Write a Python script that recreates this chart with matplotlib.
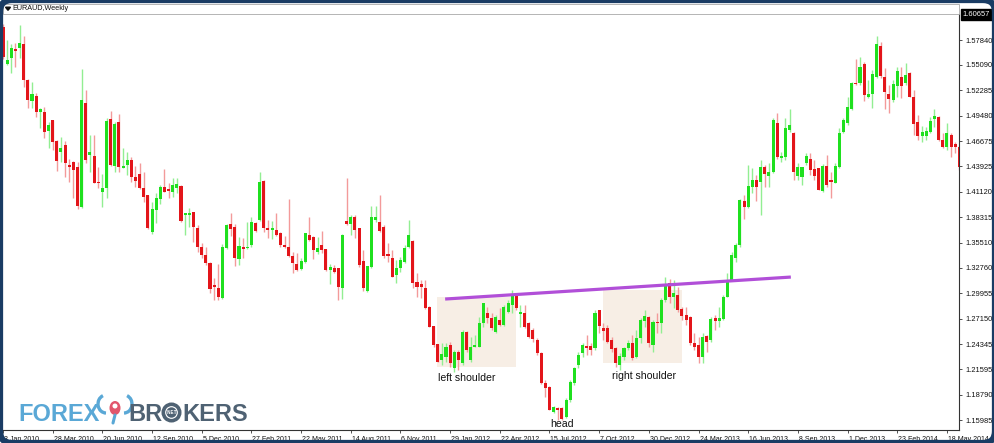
import matplotlib
matplotlib.use("Agg")
import matplotlib.pyplot as plt
import matplotlib.transforms as mtransforms
from matplotlib.patches import Rectangle, FancyBboxPatch, Polygon, Arc, Ellipse, Circle
import numpy as np

plt.rcParams['font.family'] = ['Liberation Sans', 'DejaVu Sans']

# ---------------- data (EURAUD weekly) ----------------
opens = [
    1.5931, 1.5516, 1.5582, 1.5685, 1.5692, 1.5736, 1.5343, 1.5112, 1.5171, 1.4995,
    1.4995, 1.4782, 1.4899, 1.4672, 1.4547, 1.4627, 1.4407, 1.4436, 1.4381, 1.3941,
    1.5086, 1.4517, 1.4510, 1.4224, 1.4106, 1.4150, 1.4914, 1.4396, 1.4884, 1.4378,
    1.4407, 1.4462, 1.4279, 1.4308, 1.4150, 1.4076, 1.3665, 1.3911, 1.4029, 1.4168,
    1.4139, 1.4113, 1.4157, 1.4180, 1.3857, 1.3857, 1.3886, 1.3717, 1.3509, 1.3417,
    1.3332, 1.3086, 1.3050, 1.2939, 1.3490, 1.3758, 1.3728, 1.3369, 1.3508, 1.3490,
    1.3527, 1.3772, 1.3802, 1.4235, 1.3710, 1.3692, 1.3692, 1.3662, 1.3527, 1.3508,
    1.3405, 1.3314, 1.3259, 1.3343, 1.3637, 1.3611, 1.3453, 1.3527, 1.3479, 1.3251,
    1.3270, 1.3270, 1.3050, 1.3795, 1.3758, 1.3838, 1.3710, 1.3350, 1.3024, 1.3281,
    1.3802, 1.3783, 1.3721, 1.3427, 1.3379, 1.3196, 1.3270, 1.3343, 1.3508, 1.3574,
    1.3123, 1.3097, 1.3049, 1.2847, 1.2634, 1.2433, 1.2260, 1.2290, 1.2425, 1.2168,
    1.2352, 1.2224, 1.2572, 1.2260, 1.2407, 1.2407, 1.2664, 1.2774, 1.2719, 1.2572,
    1.2700, 1.2645, 1.2792, 1.2865, 1.2976, 1.2766, 1.2781, 1.2664, 1.2590, 1.2481,
    1.2341, 1.2010, 1.1966, 1.1691, 1.1727, 1.1727, 1.1636, 1.1819, 1.2003, 1.2205,
    1.2334, 1.2414, 1.2414, 1.2389, 1.2811, 1.2609, 1.2609, 1.2481, 1.2389, 1.2205,
    1.2297, 1.2389, 1.2444, 1.2297, 1.2500, 1.2690, 1.2738, 1.2425, 1.2682, 1.2664,
    1.2921, 1.3112, 1.2958, 1.2976, 1.2818, 1.2756, 1.2738, 1.2451, 1.2425, 1.2297,
    1.2525, 1.2481, 1.2719, 1.2694, 1.2708, 1.2958, 1.3141, 1.3380, 1.3526, 1.4015,
    1.3941, 1.4169, 1.4242, 1.4224, 1.4382, 1.4287, 1.4334, 1.4874, 1.4481, 1.4492,
    1.4793, 1.4756, 1.4287, 1.4279, 1.4433, 1.4470, 1.4360, 1.4371, 1.4125, 1.4397,
    1.4243, 1.4213, 1.4390, 1.4775, 1.4867, 1.5021, 1.5314, 1.5307, 1.5520, 1.5160,
    1.5190, 1.5373, 1.5718, 1.5373, 1.5190, 1.5124, 1.5278, 1.5373, 1.5307, 1.5424,
    1.5160, 1.4885, 1.4727, 1.4727, 1.4775, 1.4911, 1.4933, 1.4683, 1.4602, 1.4738,
    1.4639, 1.4610,
]
highs = [
    1.5960, 1.5784, 1.5736, 1.5747, 1.5949, 1.5832, 1.5350, 1.5325, 1.5197, 1.5031,
    1.5050, 1.4884, 1.4905, 1.4683, 1.4719, 1.4671, 1.4473, 1.4451, 1.4444, 1.5461,
    1.5233, 1.4738, 1.4738, 1.4389, 1.4304, 1.4921, 1.5002, 1.4884, 1.4965, 1.4591,
    1.4554, 1.4499, 1.4400, 1.4425, 1.4334, 1.4080, 1.4003, 1.4095, 1.4187, 1.4363,
    1.4205, 1.4260, 1.4260, 1.4187, 1.3880, 1.3930, 1.3890, 1.3747, 1.3545, 1.3509,
    1.3335, 1.3160, 1.3317, 1.3538, 1.3758, 1.3875, 1.3758, 1.3611, 1.3600, 1.3783,
    1.3838, 1.3783, 1.4334, 1.4242, 1.3802, 1.3794, 1.3875, 1.3665, 1.3626, 1.4030,
    1.3453, 1.3435, 1.3380, 1.3662, 1.3838, 1.3626, 1.3611, 1.3684, 1.3482, 1.3317,
    1.3306, 1.3272, 1.3644, 1.4261, 1.3857, 1.3857, 1.3712, 1.3471, 1.3298, 1.3956,
    1.3956, 1.4077, 1.3747, 1.3545, 1.3471, 1.3361, 1.3398, 1.3526, 1.3802, 1.3578,
    1.3214, 1.3141, 1.3141, 1.2850, 1.2637, 1.2436, 1.2444, 1.2451, 1.2462, 1.2370,
    1.2370, 1.2590, 1.2575, 1.2517, 1.2535, 1.2737, 1.2891, 1.2847, 1.2774, 1.2755,
    1.2829, 1.2865, 1.2920, 1.3031, 1.2994, 1.2865, 1.2865, 1.2682, 1.2609, 1.2499,
    1.2344, 1.2040, 1.1969, 1.1753, 1.1746, 1.1746, 1.1837, 1.2040, 1.2187, 1.2352,
    1.2444, 1.2536, 1.2444, 1.2811, 1.2815, 1.2664, 1.2646, 1.2517, 1.2407, 1.2334,
    1.2407, 1.2481, 1.2536, 1.2591, 1.2719, 1.2811, 1.2742, 1.2701, 1.2774, 1.2939,
    1.3178, 1.3148, 1.3141, 1.3068, 1.2847, 1.2847, 1.2740, 1.2554, 1.2517, 1.2554,
    1.2536, 1.2730, 1.2756, 1.2848, 1.2976, 1.3215, 1.3453, 1.3545, 1.4030, 1.4077,
    1.4408, 1.4371, 1.4297, 1.4463, 1.4408, 1.4433, 1.4922, 1.4984, 1.4554, 1.4922,
    1.5021, 1.4775, 1.4426, 1.4389, 1.4543, 1.4543, 1.4463, 1.4374, 1.4419, 1.4518,
    1.4334, 1.4426, 1.4811, 1.4922, 1.5160, 1.5325, 1.5571, 1.5593, 1.5546, 1.5344,
    1.5454, 1.5828, 1.5766, 1.5472, 1.5289, 1.5344, 1.5490, 1.5490, 1.5527, 1.5435,
    1.5233, 1.4958, 1.4837, 1.4830, 1.4933, 1.5021, 1.4947, 1.4756, 1.4866, 1.4756,
    1.4665, 1.4613,
]
lows = [
    1.5580, 1.5509, 1.5417, 1.5490, 1.5582, 1.5270, 1.5031, 1.5039, 1.4940, 1.4811,
    1.4708, 1.4598, 1.4572, 1.4345, 1.4444, 1.4271, 1.4216, 1.4047, 1.3922, 1.3935,
    1.4425, 1.4334, 1.4205, 1.4150, 1.3948, 1.4047, 1.4400, 1.4334, 1.4334, 1.4370,
    1.4297, 1.4224, 1.4168, 1.4143, 1.4003, 1.3705, 1.3643, 1.3765, 1.3974, 1.4110,
    1.4040, 1.4058, 1.4095, 1.3783, 1.3636, 1.3728, 1.3563, 1.3454, 1.3380, 1.3306,
    1.3002, 1.2921, 1.2921, 1.2928, 1.3485, 1.3626, 1.3295, 1.3306, 1.3380, 1.3485,
    1.3508, 1.3673, 1.3790, 1.3673, 1.3600, 1.3589, 1.3620, 1.3508, 1.3490, 1.3398,
    1.3222, 1.3240, 1.3251, 1.3325, 1.3575, 1.3369, 1.3427, 1.3442, 1.3244, 1.3097,
    1.3215, 1.2921, 1.2928, 1.3747, 1.3637, 1.3600, 1.3288, 1.3024, 1.3013, 1.3270,
    1.3783, 1.3673, 1.3380, 1.3343, 1.3170, 1.3104, 1.3233, 1.3332, 1.3490, 1.3049,
    1.2957, 1.2939, 1.2825, 1.2623, 1.2407, 1.2238, 1.2205, 1.2242, 1.2187, 1.2132,
    1.2150, 1.2205, 1.2352, 1.2242, 1.2404, 1.2404, 1.2627, 1.2664, 1.2590, 1.2561,
    1.2634, 1.2634, 1.2774, 1.2774, 1.2810, 1.2627, 1.2609, 1.2499, 1.2462, 1.2315,
    1.1999, 1.1856, 1.1705, 1.1672, 1.1599, 1.1599, 1.1617, 1.1801, 1.1985, 1.2168,
    1.2297, 1.2315, 1.2315, 1.2370, 1.2554, 1.2481, 1.2444, 1.2352, 1.2187, 1.2150,
    1.2260, 1.2370, 1.2260, 1.2279, 1.2444, 1.2627, 1.2407, 1.2352, 1.2554, 1.2554,
    1.2903, 1.2884, 1.2829, 1.2792, 1.2701, 1.2646, 1.2425, 1.2370, 1.2224, 1.2224,
    1.2352, 1.2462, 1.2591, 1.2627, 1.2701, 1.2951, 1.3130, 1.3343, 1.3508, 1.3809,
    1.3930, 1.4096, 1.4015, 1.3857, 1.4169, 1.4169, 1.4316, 1.4470, 1.4444, 1.4463,
    1.4775, 1.4243, 1.4243, 1.4188, 1.4408, 1.4298, 1.4243, 1.4130, 1.4114, 1.4169,
    1.4041, 1.4206, 1.4371, 1.4756, 1.4848, 1.5013, 1.5288, 1.5288, 1.5116, 1.5142,
    1.5032, 1.5362, 1.5362, 1.5021, 1.4984, 1.5105, 1.5160, 1.5142, 1.5289, 1.5153,
    1.4738, 1.4683, 1.4664, 1.4683, 1.4756, 1.4823, 1.4676, 1.4591, 1.4573, 1.4499,
    1.4536, 1.4353,
]
closes = [
    1.5600, 1.5563, 1.5692, 1.5663, 1.5754, 1.5343, 1.5123, 1.5189, 1.4995, 1.5024,
    1.4767, 1.4848, 1.4664, 1.4451, 1.4598, 1.4425, 1.4385, 1.4352, 1.3959, 1.5123,
    1.4462, 1.4554, 1.4213, 1.4213, 1.4150, 1.4892, 1.4407, 1.4855, 1.4389, 1.4400,
    1.4462, 1.4279, 1.4235, 1.4157, 1.4058, 1.3709, 1.3919, 1.4047, 1.4168, 1.4113,
    1.4125, 1.4187, 1.4198, 1.3790, 1.3875, 1.3875, 1.3728, 1.3509, 1.3417, 1.3325,
    1.3038, 1.3061, 1.2950, 1.3509, 1.3747, 1.3699, 1.3380, 1.3515, 1.3479, 1.3508,
    1.3783, 1.3684, 1.4224, 1.3710, 1.3692, 1.3717, 1.3637, 1.3527, 1.3501, 1.3405,
    1.3332, 1.3251, 1.3350, 1.3655, 1.3582, 1.3471, 1.3490, 1.3471, 1.3251, 1.3281,
    1.3233, 1.3068, 1.3637, 1.3758, 1.3831, 1.3692, 1.3306, 1.3050, 1.3295, 1.3838,
    1.3838, 1.3684, 1.3405, 1.3405, 1.3178, 1.3270, 1.3361, 1.3490, 1.3637, 1.3112,
    1.3060, 1.3060, 1.2829, 1.2627, 1.2425, 1.2242, 1.2326, 1.2407, 1.2231, 1.2352,
    1.2260, 1.2572, 1.2370, 1.2407, 1.2425, 1.2664, 1.2884, 1.2719, 1.2609, 1.2737,
    1.2645, 1.2847, 1.2891, 1.2976, 1.2829, 1.2792, 1.2627, 1.2517, 1.2488, 1.2334,
    1.2003, 1.1948, 1.1709, 1.1738, 1.1709, 1.1606, 1.1819, 1.2021, 1.2168, 1.2315,
    1.2425, 1.2396, 1.2370, 1.2774, 1.2635, 1.2583, 1.2462, 1.2378, 1.2224, 1.2304,
    1.2389, 1.2444, 1.2279, 1.2500, 1.2701, 1.2745, 1.2444, 1.2682, 1.2664, 1.2921,
    1.3086, 1.2958, 1.2995, 1.2811, 1.2745, 1.2701, 1.2444, 1.2407, 1.2297, 1.2517,
    1.2462, 1.2708, 1.2694, 1.2719, 1.2958, 1.3141, 1.3416, 1.3526, 1.4022, 1.3941,
    1.4176, 1.4242, 1.4162, 1.4382, 1.4308, 1.4334, 1.4903, 1.4492, 1.4507, 1.4812,
    1.4848, 1.4334, 1.4382, 1.4382, 1.4507, 1.4353, 1.4287, 1.4133, 1.4397, 1.4188,
    1.4225, 1.4397, 1.4756, 1.4903, 1.5050, 1.5314, 1.5299, 1.5483, 1.5179, 1.5190,
    1.5410, 1.5740, 1.5388, 1.5215, 1.5131, 1.5300, 1.5446, 1.5278, 1.5399, 1.5160,
    1.4859, 1.4727, 1.4775, 1.4786, 1.4896, 1.4947, 1.4683, 1.4602, 1.4756, 1.4610,
    1.4602, 1.4389,
]

date_labels = ["3 Jan 2010", "28 Mar 2010", "20 Jun 2010", "12 Sep 2010", "5 Dec 2010",
               "27 Feb 2011", "22 May 2011", "14 Aug 2011", "6 Nov 2011", "29 Jan 2012",
               "22 Apr 2012", "15 Jul 2012", "7 Oct 2012", "30 Dec 2012", "24 Mar 2013",
               "16 Jun 2013", "8 Sep 2013", "1 Dec 2013", "23 Feb 2014", "18 May 2014"]
date_label_weeks = [0, 12, 24, 36, 48, 60, 72, 84, 96, 108,
                    120, 132, 144, 156, 168, 180, 192, 204, 216, 228]
price_ticks = [1.57840, 1.55090, 1.52285, 1.49480, 1.46675, 1.43925, 1.41120, 1.38315,
               1.35510, 1.32760, 1.29955, 1.27150, 1.24345, 1.21595, 1.18790, 1.15985]
scale_top_price = 1.60657

neckline_weeks = [106.8, 190.3]
neckline_prices = [1.2931, 1.3173]

# ---------------- figure ----------------
W, H = 995, 443
fig = plt.figure(figsize=(W / 100, H / 100), dpi=100)
fig.patch.set_facecolor('white')

ax = fig.add_axes([0 / W, (H - 430) / H, 959 / W, (430 - 13.7) / H])
ax.set_facecolor('white')
ax.set_xlim(-0.725, 230.92)
ax.set_ylim(1.14885, 1.60737)

o = np.array(opens); h = np.array(highs); l = np.array(lows); c = np.array(closes)
x = np.arange(len(o))
up = c >= o

# shaded shoulder zones
ax.add_patch(Rectangle((104.8, 1.2186), 19.1, 1.2957 - 1.2186,
                       facecolor='#f7eee5', edgecolor='none', zorder=1))
ax.add_patch(Rectangle((144.9, 1.2227), 19.1, 1.3031 - 1.2227,
                       facecolor='#f7eee5', edgecolor='none', zorder=1))

bull_body, bull_wick = '#1fe01f', '#92ee92'
bear_body, bear_wick = '#e3151a', '#f39a9a'
ax.vlines(x[up], l[up], h[up], color=bull_wick, lw=1.0, zorder=2)
ax.vlines(x[~up], l[~up], h[~up], color=bear_wick, lw=1.0, zorder=2)
raw = np.abs(c - o)
body_h = np.maximum(raw, 0.0010)
body_b = np.minimum(o, c) - (body_h - raw) / 2
ax.bar(x, body_h, bottom=body_b, width=0.74,
       color=np.where(up, bull_body, bear_body), linewidth=0, zorder=3)

# neckline
ax.plot(neckline_weeks, neckline_prices, color='#b14fd8', lw=2.3,
        solid_capstyle='butt', zorder=4)

# labels
lab_kw = dict(ha='center', va='center', fontsize=7.6, color='#111111', zorder=6)
ax.text(111.95, 1.2056, 'left shoulder', **lab_kw)
ax.text(154.9, 1.2083, 'right shoulder', **lab_kw)
ax.text(134.95, 1.1560, 'head', **lab_kw)

# axes styling (MT4 look)
for s in ('top', 'left'):
    ax.spines[s].set_visible(False)
for s in ('right', 'bottom'):
    ax.spines[s].set_color('#333333')
    ax.spines[s].set_linewidth(0.8)

ax.yaxis.tick_right()
ax.set_yticks(price_ticks)
ax.set_yticklabels(['%.5f' % v for v in price_ticks])
ax.tick_params(axis='y', labelsize=5.4, length=2, width=0.6, pad=2.5,
               colors='#333333', labelcolor='#111111')
ax.set_xticks(date_label_weeks)
ax.set_xticklabels(date_labels)
ax.tick_params(axis='x', labelsize=5.0, length=2.5, width=0.6, pad=1.5,
               colors='#333333', labelcolor='#111111')
for lbl in ax.get_xticklabels():
    lbl.set_horizontalalignment('left')
    lbl.set_transform(lbl.get_transform() + mtransforms.ScaledTranslation(1 / 100, 0, fig.dpi_scale_trans))

blend = mtransforms.blended_transform_factory(ax.transAxes, ax.transData)
ax.text(1.004, scale_top_price, '1.60657', transform=blend, ha='left', va='center',
        fontsize=5.4, color='white', clip_on=False, zorder=10,
        bbox=dict(boxstyle='square,pad=0.3', fc='black', ec='black'))

# ---------------- overlay decorations (pixel coordinates) ----------------
ov = fig.add_axes([0, 0, 1, 1], zorder=5)
ov.set_xlim(0, W)
ov.set_ylim(H, 0)
ov.axis('off')

# title bar
ov.add_patch(Rectangle((3, 3.5), 956, 10.2, facecolor='white', edgecolor='#a8a8a8', lw=0.6))
ov.add_patch(Polygon([(5.5, 7.2), (10.5, 7.2), (8, 10.3)], closed=True, color='#111111'))
ov.text(12.5, 8.8, 'EURAUD,Weekly', fontsize=5.2, color='#111111', va='center', ha='left')

# logo
blue, slate = '#5aa8d6', '#4f6273'
ov.text(18, 421, 'FOREX', fontsize=17, fontweight='bold', color=blue,
        ha='left', va='baseline')
ov.text(128, 421, 'BR', fontsize=17, fontweight='bold', color=slate,
        ha='left', va='baseline')
ov.add_patch(Circle((171.5, 412.5), 8.2, facecolor='none', edgecolor=slate, lw=2.6))
ov.add_patch(Circle((171.5, 412.5), 5.2, facecolor=slate, edgecolor='none'))
ov.text(171.5, 412.8, '.NET', fontsize=3.3, fontweight='bold', color='white',
        ha='center', va='center')
ov.text(182, 421, 'KERS', fontsize=17, fontweight='bold', color=slate,
        ha='left', va='baseline')
ov.add_patch(Arc((106, 404), 16, 18, theta1=90, theta2=250, color=blue, lw=2.4))
ov.add_patch(Arc((124, 404), 16, 18, theta1=290, theta2=90, color=blue, lw=2.4))
ov.add_patch(Ellipse((115, 408), 11, 14, facecolor='#e2566c', edgecolor='none'))
ov.add_patch(Ellipse((115, 406), 5, 5, facecolor='white', edgecolor='none'))
ov.plot([115, 113], [415, 423], color=blue, lw=2.2, solid_capstyle='round')

# outer frame
ov.add_patch(FancyBboxPatch((0, 0), W, H, boxstyle='round,pad=0,rounding_size=12',
                            facecolor='none', edgecolor='#1a3c64', lw=4.5))

fig.savefig('out.png', dpi=100, facecolor='white')
